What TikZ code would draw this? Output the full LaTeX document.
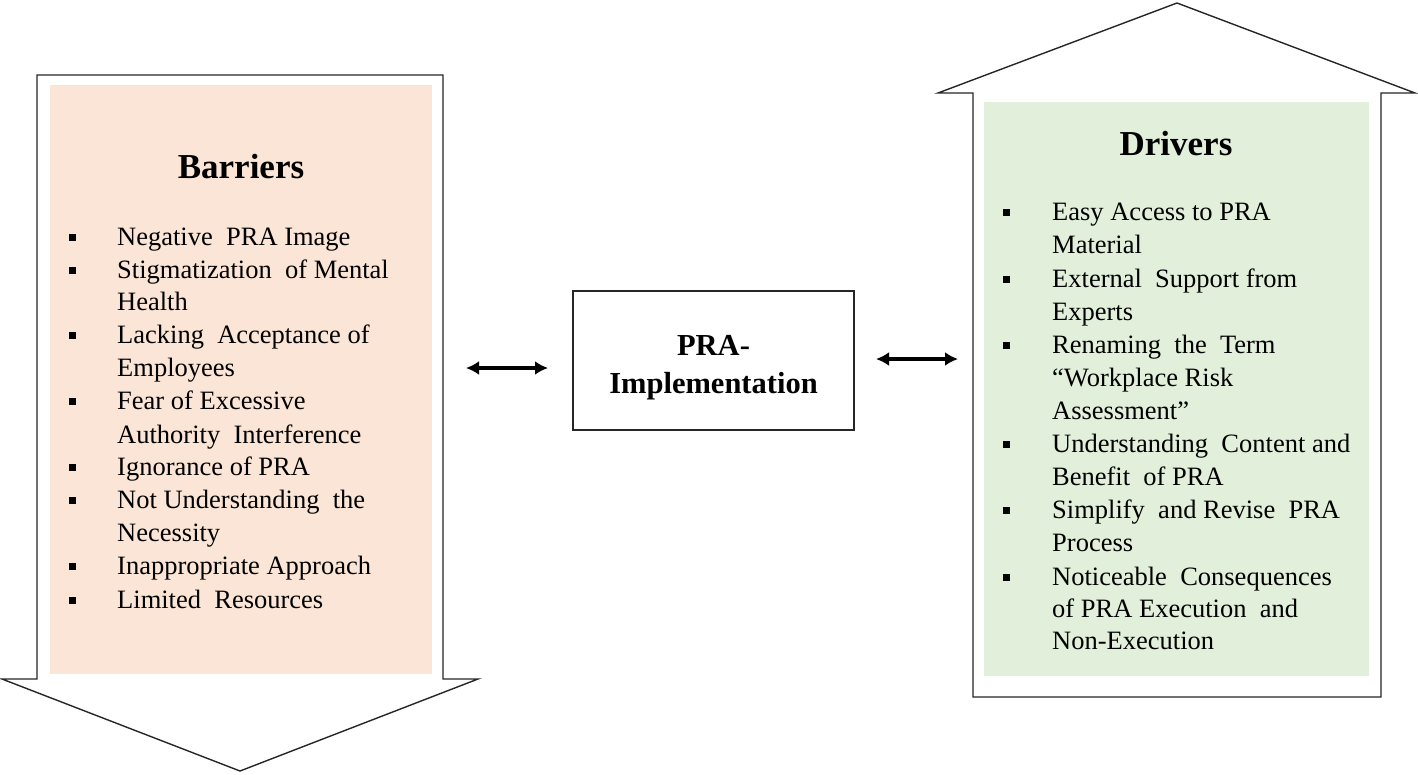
\documentclass[tikz,border=0pt]{standalone}
\usepackage{fontspec}
\setmainfont{Liberation Serif}
\usetikzlibrary{arrows.meta}
\definecolor{peach}{HTML}{FBE5D6}
\definecolor{lightgreen}{HTML}{E2EFDA}
\begin{document}
\begin{tikzpicture}[x=1pt,y=-1pt,
  outline/.style={draw=black!85, line width=1.4pt, fill=white, line join=miter},
  itemtext/.style={anchor=base west, inner sep=0pt, font=\fontsize{26.5}{33}\selectfont},
  bul/.style={fill=black, minimum size=7pt, inner sep=0pt, draw=none},
  titletext/.style={anchor=base, inner sep=0pt, font=\fontsize{35}{40}\selectfont\bfseries},
  dbl/.style={{Latex[length=13pt,width=14pt]}-{Latex[length=13pt,width=14pt]}, line width=3.4pt}]
\useasboundingbox (0,0) rectangle (1418,774);

% left down arrow (Barriers)
\draw[outline] (37,75) -- (443,75) -- (443,679) -- (478,679) -- (240,771) -- (2,679) -- (37,679) -- cycle;
\fill[peach] (50,85) rectangle (432,674);
% right up arrow (Drivers)
\draw[outline] (1177,3) -- (1415,93) -- (1381,93) -- (1381,697) -- (973,697) -- (973,93) -- (938,93) -- cycle;
\fill[lightgreen] (984,102) rectangle (1369,676);

\node[titletext] (barriers) at (241,178) {Barriers};
\node[titletext] (drivers) at (1176,155) {Drivers};

% Barriers list
\foreach \y/\t/\b [count=\i] in {
  245/{Negative\ \ PRA Image}/1,
  278/{Stigmatization\ \ of Mental}/1,
  310/{Health}/0,
  343/{Lacking\ \ Acceptance of}/1,
  376/{Employees}/0,
  409/{Fear of Excessive}/1,
  443/{Authority\ \ Interference}/0,
  475/{Ignorance of PRA}/1,
  508/{Not Understanding\ \ the}/1,
  541/{Necessity}/0,
  574/{Inappropriate Approach}/1,
  608/{Limited\ \ Resources}/1}{
  \node[itemtext] (bl\i) at (117,\y) {\t};
  \ifnum\b=1 \node[bul] (bb\i) at (72,\y-8) {};\fi
}

% Drivers list
\foreach \y/\t/\b [count=\i] in {
  220/{Easy Access to PRA}/1,
  253/{Material}/0,
  287/{External\ \ Support from}/1,
  320/{Experts}/0,
  353/{Renaming\ \ the\ \ Term}/1,
  386/{“Workplace Risk}/0,
  419/{Assessment”}/0,
  452/{Understanding\ \ Content and}/1,
  485/{Benefit\ \ of PRA}/0,
  518/{Simplify\ \ and Revise\ \ PRA}/1,
  551/{Process}/0,
  585/{Noticeable\ \ Consequences}/1,
  617/{of PRA Execution\ \ and}/0,
  649/{Non-Execution}/0}{
  \node[itemtext] (dl\i) at (1052,\y) {\t};
  \ifnum\b=1 \node[bul] (db\i) at (1006,\y-8) {};\fi
}

% center box
\node[draw=black!85, line width=1.4pt, minimum width=281pt, minimum height=139pt, inner sep=0pt] (impl) at (713.5,360.5) {};
\node[anchor=base, inner sep=0pt, font=\fontsize{30.5}{36}\selectfont\bfseries] (implA) at (713.5,355) {PRA-};
\node[anchor=base, inner sep=0pt, font=\fontsize{30.5}{36}\selectfont\bfseries] (implB) at (713.5,393) {Implementation};

% double arrows
\coordinate (la) at (466,368);
\coordinate (lb) at (548,368);
\coordinate (ra) at (876,359);
\coordinate (rb) at (958,359);
\draw[dbl] (la) -- (lb);
\draw[dbl] (ra) -- (rb);
\end{tikzpicture}
\end{document}
